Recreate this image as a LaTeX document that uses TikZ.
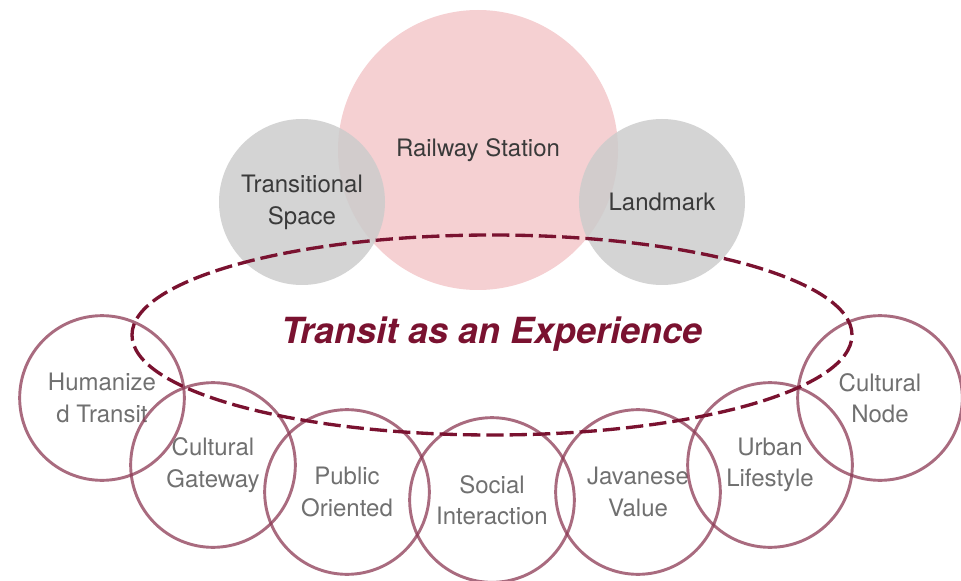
\documentclass[tikz,border=0pt]{standalone}
\usepackage{fontspec}
\setmainfont{TeX Gyre Heros}
\usetikzlibrary{shapes.geometric}
\definecolor{stationpink}{RGB}{245,208,210}
\definecolor{softgrey}{RGB}{204,204,204}
\definecolor{ringred}{RGB}{140,58,84}
\definecolor{wine}{RGB}{122,18,48}
\definecolor{toptext}{RGB}{58,58,58}
\definecolor{ringtext}{RGB}{112,112,112}
\tikzset{
	bigdisc/.style={circle, fill=stationpink, minimum size=210pt, inner sep=0pt, text=toptext, font=\fontsize{18}{24}\selectfont},
	greydisc/.style={circle, fill=softgrey, fill opacity=0.85, text opacity=1, minimum size=124.5pt, inner sep=0pt, align=center, text=toptext, font=\fontsize{18}{24}\selectfont},
	ring/.style={circle, draw=ringred, draw opacity=0.75, line width=2.2pt, minimum size=123.5pt, inner sep=0pt, align=center, text=ringtext, font=\fontsize{18}{23.5}\selectfont},
	loopline/.style={ellipse, draw=wine, line width=2.5pt, dash pattern=on 13pt off 4.5pt, minimum width=540pt, minimum height=150pt, inner sep=0pt},
	theme/.style={text=wine, font=\fontsize{27}{32}\selectfont\bfseries\itshape}
}

\begin{document}
\begin{tikzpicture}[x=0.75pt, y=-0.75pt]
	%%%%% START %%%%%
	\useasboundingbox (0, 0) rectangle (961, 581);
	
	\node[bigdisc] (station) at (478, 150) {Railway Station};
	\node[greydisc] (transition) at (302, 202) {Transitional\\Space};
	\node[greydisc] (landmark) at (662, 202) {Landmark};
	
	\node[ring] (humanized) at (102, 398) {Humanize\\d Transit};
	\node[ring] (gateway) at (213, 465) {Cultural\\Gateway};
	\node[ring] (public) at (347, 492) {Public\\Oriented};
	\node[ring] (social) at (492, 500) {Social\\Interaction};
	\node[ring] (javanese) at (638, 492) {Javanese\\Value};
	\node[ring] (urban) at (770, 465) {Urban\\Lifestyle};
	\node[ring] (culturalnode) at (880, 398) {Cultural\\Node};
	
	\node[loopline] (experience) at (492, 335) {};
	\node[theme, anchor=base] (title) at (492, 344) {Transit as an Experience};
	
	%%%%% END %%%%%
\end{tikzpicture}
\end{document}
